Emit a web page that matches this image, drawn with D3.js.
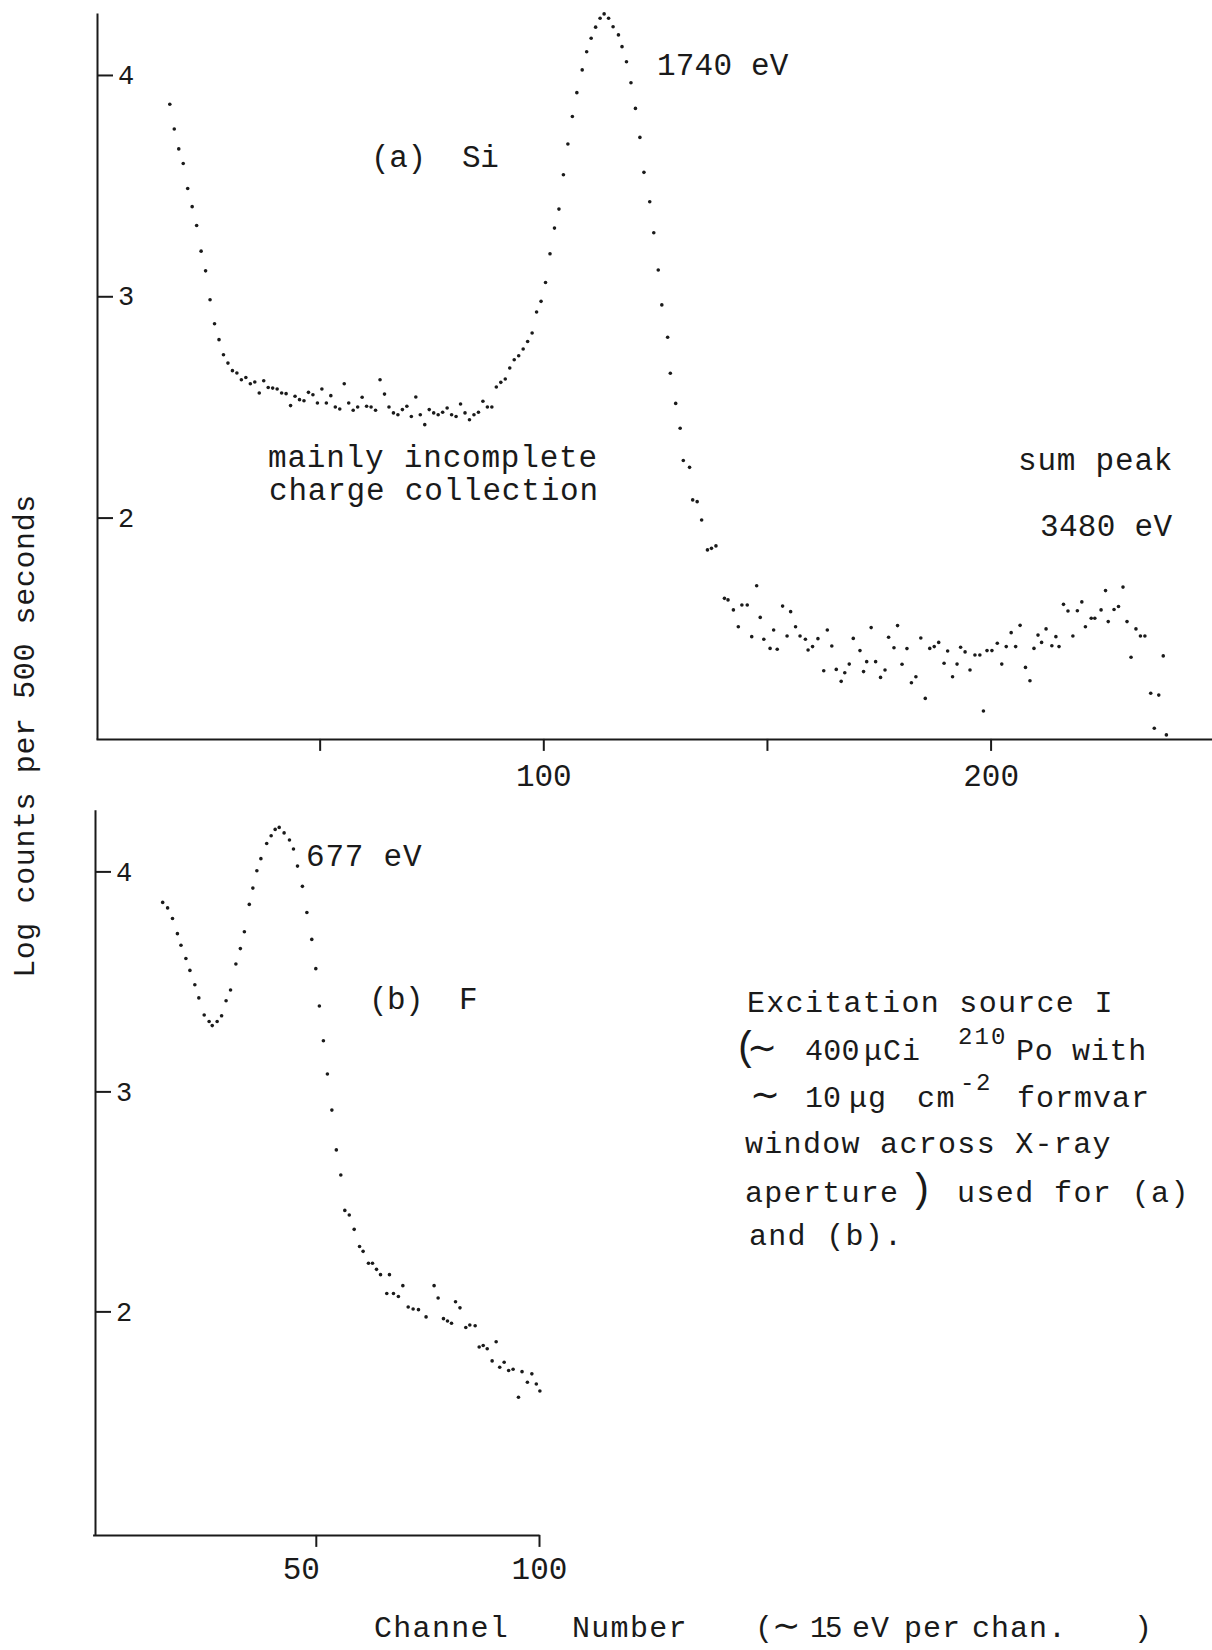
<!DOCTYPE html>
<html><head><meta charset="utf-8">
<script src="https://cdn.jsdelivr.net/npm/d3@7"></script>
<style>
body{margin:0;background:#fff;}
svg{display:block;background:#fff;}
text{font-family:"Liberation Mono","DejaVu Sans Mono",monospace;fill:#1a1a1a;}
</style></head><body>
<svg id="chart" width="1212" height="1650"></svg>
<script>
// ---- Panel (a) Si : channel numbers and log10 counts ----
const chA = [16.5,17.5,18.5,19.5,20.5,21.5,22.5,23.5,24.5,25.5,26.5,27.5,28.5,29.5,30.5,31.5,32.5,33.5,34.5,35.5,
36.5,37.5,38.5,39.5,40.5,41.5,42.5,43.5,44.5,45.5,46.5,47.5,48.5,49.5,50.5,51.5,52.5,53.5,54.5,55.5,
56.5,57.5,58.5,59.5,60.5,61.5,62.5,63.5,64.5,65.5,66.5,67.5,68.5,69.5,70.5,71.5,72.5,73.5,74.5,75.5,
76.5,77.5,78.5,79.5,80.5,81.5,82.5,83.5,84.5,85.5,86.5,87.5,88.5,89.5,90.5,91.5,92.5,93.5,94.5,95.5,
96.5,97.5,98.5,99.5,100.5,101.5,102.5,103.5,104.5,105.5,106.5,107.5,
108.7,109.7,110.7,111.7,112.7,113.6,114.6,115.6,116.8,117.6,118.6,119.6,120.6,121.6,122.5,123.8,124.7,125.7,126.5,127.8,128.4,129.6,130.6,131.3,
132.7,133.4,134.4,135.4,136.7,137.6,138.6,140.5,141.3,142.5,143.6,144.4,145.6,146.6,147.7,148.5,149.3,150.7,151.5,152.3,
153.5,154.5,155.3,156.4,157.4,158.6,159.2,160.2,161.4,162.7,163.5,164.5,165.5,166.6,167.4,168.4,169.3,170.8,171.6,172.3,
173.3,174.3,175.4,176.4,177.2,178.4,179.2,180.2,181.3,182.3,183.3,184.4,185.4,186.4,187.4,188.4,189.6,190.4,191.5,192.5,
193.3,194.3,195.4,196.5,197.6,198.4,199.2,200.3,201.5,202.5,203.5,204.6,205.6,206.6,207.8,208.8,209.7,210.6,211.4,212.4,
213.7,214.6,215.3,216.3,217.3,218.4,219.4,220.4,221.2,222.5,223.3,224.7,225.7,226.3,227.6,228.6,229.6,230.5,231.4,232.5,
233.5,234.5,235.8,236.6,237.6,238.6,239.3];
const logA = [3.868,3.756,3.666,3.600,3.487,3.405,3.320,3.204,3.115,2.984,2.876,2.804,2.736,2.698,2.664,2.653,2.623,2.633,2.605,2.613,
2.563,2.618,2.588,2.585,2.581,2.563,2.560,2.506,2.548,2.533,2.528,2.566,2.555,2.518,2.581,2.518,2.551,2.500,2.491,2.605,
2.518,2.485,2.500,2.544,2.503,2.500,2.485,2.623,2.558,2.500,2.473,2.465,2.488,2.503,2.457,2.545,2.465,2.420,2.488,2.473,
2.465,2.476,2.495,2.465,2.457,2.513,2.473,2.442,2.465,2.476,2.526,2.500,2.500,2.590,2.611,2.626,2.676,2.713,2.731,2.762,
2.796,2.834,2.929,2.977,3.062,3.192,3.308,3.394,3.549,3.688,3.812,3.920,
4.023,4.105,4.166,4.216,4.256,4.276,4.256,4.218,4.181,4.128,4.060,3.965,3.849,3.718,3.560,3.427,3.287,3.119,2.961,2.815,2.652,2.516,2.404,2.258,
2.227,2.080,2.072,1.989,1.854,1.861,1.872,1.635,1.628,1.583,1.507,1.605,1.605,1.462,1.692,1.549,1.450,1.409,1.492,1.405,
1.600,1.465,1.575,1.507,1.465,1.450,1.402,1.417,1.453,1.308,1.492,1.420,1.314,1.260,1.299,1.338,1.454,1.399,1.304,1.349,
1.503,1.349,1.278,1.311,1.459,1.412,1.512,1.337,1.408,1.254,1.281,1.456,1.183,1.409,1.417,1.436,1.342,1.397,1.281,1.338,
1.414,1.393,1.311,1.379,1.379,1.126,1.399,1.399,1.432,1.338,1.417,1.480,1.417,1.513,1.323,1.263,1.409,1.469,1.436,1.497,
1.421,1.462,1.417,1.608,1.578,1.465,1.579,1.619,1.507,1.545,1.545,1.583,1.670,1.530,1.585,1.598,1.686,1.530,1.369,1.497,
1.465,1.465,1.206,1.048,1.198,1.375,1.018];

// ---- Panel (b) F ----
const chB = [15.7,16.8,17.9,19.0,19.8,20.9,21.8,22.9,23.8,25.0,26.1,26.8,27.9,28.9,29.9,30.9,32.1,33.1,34.0,35.1,
35.9,36.8,37.7,39.0,40.0,40.9,41.8,42.9,44.1,45.0,45.9,47.0,48.0,49.1,50.0,50.8,51.7,52.6,53.6,54.6,
55.6,56.5,57.5,58.6,59.8,60.6,61.8,62.7,63.6,64.5,65.9,66.5,67.4,68.5,69.5,70.7,71.8,73.0,74.7,76.5,
77.4,78.6,79.5,80.4,81.3,82.3,83.6,84.5,85.7,86.6,87.5,88.4,89.5,90.4,91.2,92.2,93.2,94.2,95.4,96.2,
97.4,98.4,99.4,100.2];
const logB = [3.859,3.834,3.786,3.717,3.664,3.604,3.550,3.485,3.425,3.347,3.318,3.299,3.318,3.344,3.412,3.461,3.579,3.649,3.726,3.850,
3.924,4.003,4.058,4.127,4.162,4.191,4.200,4.175,4.143,4.102,4.024,3.932,3.813,3.691,3.558,3.388,3.230,3.079,2.915,2.734,
2.620,2.459,2.438,2.373,2.295,2.273,2.219,2.219,2.191,2.167,2.081,2.167,2.081,2.068,2.117,2.020,2.011,2.008,1.975,2.117,
2.061,1.967,1.956,1.946,2.044,2.016,1.927,1.938,1.935,1.838,1.845,1.830,1.775,1.862,1.746,1.769,1.731,1.737,1.610,1.726,
1.678,1.716,1.670,1.638];

const yTickValues = [2, 3, 4];
const xTicksA = [50, 100, 150, 200];
const xTickLabelsA = ["", "100", "", "200"];
const xTicksB = [50, 100];
const xTickLabelsB = ["50", "100"];

const svg = d3.select("#chart");
const INK = "#1a1a1a";
const MONO = '"Liberation Mono","DejaVu Sans Mono",monospace';

// scales
const xA = d3.scaleLinear().domain([0, 249.5]).range([96, 1212]);
const yA = d3.scaleLinear().domain([1.0, 4.28]).range([738.9, 13.0]);
const xB = d3.scaleLinear().domain([0, 100]).range([92.6, 539]);
const yB = d3.scaleLinear().domain([0.984, 4.28]).range([1534.9, 809.8]);

function styleAxis(g, fs) {
  g.select(".domain").attr("stroke", INK).attr("stroke-width", 2);
  g.selectAll(".tick line").attr("stroke", INK).attr("stroke-width", 2);
  g.selectAll(".tick text").attr("fill", INK).style("font-size", fs + "px").style("font-family", MONO);
}

// Panel (a) axes
const gyA = svg.append("g").attr("transform", "translate(97,0)")
  .call(d3.axisRight(yA).tickValues(yTickValues).tickSize(16).tickSizeOuter(0).tickPadding(5).tickFormat(d3.format("d")));
styleAxis(gyA, 27);
const gxA = svg.append("g").attr("transform", `translate(0,${yA(1.0)})`)
  .call(d3.axisBottom(xA).tickValues(xTicksA).tickSize(12).tickSizeOuter(0)
    .tickFormat((d, i) => xTickLabelsA[i]));
styleAxis(gxA, 31);
gxA.selectAll(".tick text").attr("y", 47).attr("dy", 0);

// Panel (b) axes
const gyB = svg.append("g").attr("transform", "translate(95,0)")
  .call(d3.axisRight(yB).tickValues(yTickValues).tickSize(16).tickSizeOuter(0).tickPadding(5).tickFormat(d3.format("d")));
styleAxis(gyB, 27);
const gxB = svg.append("g").attr("transform", `translate(0,${yB(0.984)})`)
  .call(d3.axisBottom(xB).tickValues(xTicksB).tickSize(12).tickSizeOuter(0)
    .tickFormat((d, i) => xTickLabelsB[i]));
styleAxis(gxB, 31);
gxB.selectAll(".tick text").attr("y", 44).attr("dy", 0).attr("dx", d => d === 50 ? -15 : 0);

// data dots
const dataA = chA.map((c, i) => ({c, v: logA[i]}));
const dataB = chB.map((c, i) => ({c, v: logB[i]}));
svg.append("g").selectAll("circle").data(dataA).join("circle")
  .attr("cx", d => xA(d.c)).attr("cy", d => yA(d.v)).attr("r", 1.8).attr("fill", INK);
svg.append("g").selectAll("circle").data(dataB).join("circle")
  .attr("cx", d => xB(d.c)).attr("cy", d => yB(d.v)).attr("r", 1.8).attr("fill", INK);

// text helper (monospace with typewriter advance)
function label(str, x, y, size, adv) {
  const ls = adv != null ? adv - 0.6 * size : 0;
  return svg.append("text").attr("x", x).attr("y", y)
    .style("font-size", size + "px").style("letter-spacing", ls + "px")
    .attr("xml:space", "preserve").text(str);
}
// text made of pieces (tspans) on one line
function pieces(y, parts) {
  const t = svg.append("text").attr("y", y).attr("xml:space", "preserve");
  parts.forEach(p => {
    const s = t.append("tspan").attr("x", p.x).text(p.t)
      .style("font-size", p.size + "px")
      .style("letter-spacing", (p.adv ? p.adv - 0.6 * p.size : 0) + "px");
    if (p.dy != null) s.attr("dy", p.dy);
    if (p.font) s.style("font-family", p.font);
  });
  return t;
}
const TILDE = '"DejaVu Sans",sans-serif';

// annotations panel (a)
label("1740 eV", 657, 75, 31, 18.8);
label("(a)  Si", 371, 167, 31, 18.2);
label("mainly incomplete", 268, 467, 31, 19.4);
label("charge collection", 269, 500, 31, 19.4);
label("sum peak", 1018, 470, 31, 19.4);
label("3480 eV", 1040, 536, 31, 18.9);
// panel (b)
label("677 eV", 306, 866, 31, 19.4);
label("(b)  F", 369, 1009, 31, 18.0);

// excitation source block
label("Excitation source I", 747, 1012, 30, 19.3);
pieces(1060, [
  {x: 734, t: "(", size: 40, adv: 12},
  {x: 747, t: "\u223C", size: 36, font: TILDE},
  {x: 805, t: "400", size: 30, adv: 18.2},
  {x: 864, t: "\u03BCCi", size: 30, adv: 19},
  {x: 958, t: "210", size: 24, adv: 16.5, dy: -16},
  {x: 1016, t: "Po with", size: 30, adv: 18.7, dy: 16}
]);
pieces(1107, [
  {x: 750, t: "\u223C", size: 36, font: TILDE},
  {x: 805, t: "10", size: 30, adv: 18},
  {x: 849, t: "\u03BCg", size: 30, adv: 19},
  {x: 917, t: "cm", size: 30, adv: 19.5},
  {x: 960, t: "-2", size: 24, adv: 16, dy: -17},
  {x: 1017, t: "formvar", size: 30, adv: 19.0, dy: 17}
]);
label("window across X-ray", 745, 1153, 30, 19.3);
pieces(1202, [
  {x: 745, t: "aperture", size: 30, adv: 19.3},
  {x: 909, t: ")", size: 40, adv: 12},
  {x: 957, t: "used for (a)", size: 30, adv: 19.4}
]);
label("and (b).", 749, 1245, 30, 19.3);

// axis titles
svg.append("text").attr("transform", "translate(34,736) rotate(-90)")
  .attr("text-anchor", "middle").style("font-size", "30px").style("letter-spacing", (18.6 - 18) + "px")
  .attr("xml:space", "preserve").text("Log counts per 500 seconds");
pieces(1637, [
  {x: 374, t: "Channel", size: 30, adv: 19.3},
  {x: 572, t: "Number", size: 30, adv: 19.3},
  {x: 755, t: "(", size: 30, adv: 14},
  {x: 772, t: "\u223C", size: 34, font: TILDE},
  {x: 810, t: "15", size: 29, adv: 15},
  {x: 852, t: "eV", size: 30, adv: 19},
  {x: 904, t: "per", size: 30, adv: 19},
  {x: 972, t: "chan.", size: 30, adv: 19},
  {x: 1134, t: ")", size: 30, adv: 19}
]);
</script>
</body></html>
